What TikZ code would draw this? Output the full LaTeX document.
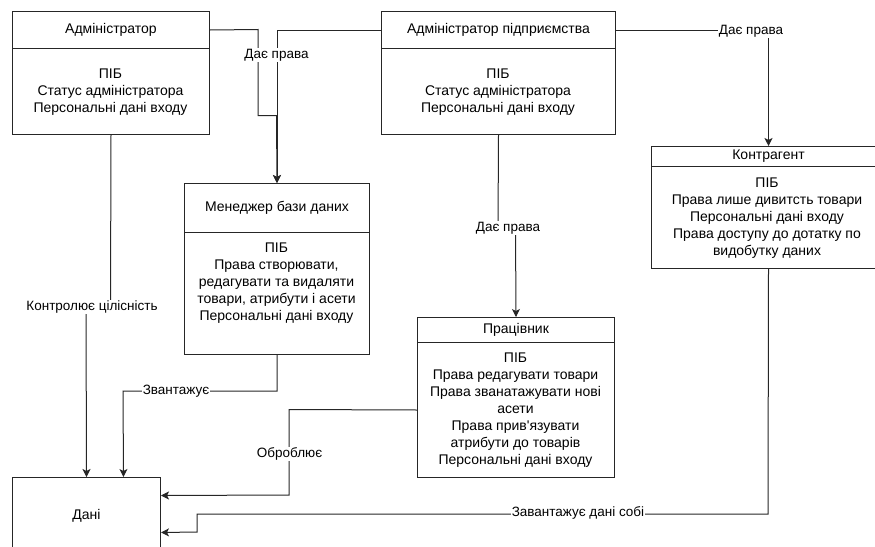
\documentclass[tikz,border=0pt]{standalone}
\usepackage{fontspec}
\setmainfont{Liberation Sans}
\usetikzlibrary{arrows.meta}
\begin{document}
\begin{tikzpicture}[x=1pt,y=-1pt,
  every node/.style={font=\fontsize{14}{17}\selectfont},
  cell/.style={draw=black!85, line width=1pt, rectangle, inner sep=0pt, anchor=north west},
  body/.style={align=center, inner sep=0pt},
  link/.style={draw=black!85, line width=1pt},
  arr/.style={link, -{Stealth[length=8pt,width=8pt,inset=2pt]}},
  tag/.style={fill=white, inner sep=1pt, font=\fontsize{13.5}{16}\selectfont}
]
\useasboundingbox (0,0) rectangle (875,546);
\clip (0,0) rectangle (875,546);

% entity boxes: header cell + body cell
\node[cell, minimum width=197pt, minimum height=37pt] (admH) at (12,11) {Адміністратор};
\node[cell, minimum width=197pt, minimum height=86pt] (admB) at (12,48) {};
\node[body] (admT) at (110.5,92) {ПІБ\\Статус адміністратора\\Персональні дані входу};

\node[cell, minimum width=234pt, minimum height=37pt] (entH) at (381,11) {Адміністратор підприємства};
\node[cell, minimum width=234pt, minimum height=86pt] (entB) at (381,48) {};
\node[body] (entT) at (498,92) {ПІБ\\Статус адміністратора\\Персональні дані входу};

\node[cell, minimum width=185pt, minimum height=49pt] (mgrH) at (184,183) {Менеджер бази даних};
\node[cell, minimum width=185pt, minimum height=122pt] (mgrB) at (184,232) {};
\node[body] (mgrT) at (276.5,283) {ПІБ\\Права створювати,\\редагувати та видаляти\\товари, атрибути і асети\\Персональні дані входу};

\node[cell, minimum width=234pt, minimum height=20pt] (conH) at (651,146) {Контрагент};
\node[cell, minimum width=234pt, minimum height=102pt] (conB) at (651,166) {};
\node[body] (conT) at (767,218.5) {ПІБ\\Права лише дивитсть товари\\Персональні дані входу\\Права доступу до дотатку по\\видобутку даних};

\node[cell, minimum width=197pt, minimum height=25pt] (prcH) at (417,317) {Працівник};
\node[cell, minimum width=197pt, minimum height=135pt] (prcB) at (417,342) {};
\node[body] (prcT) at (515.5,410) {ПІБ\\Права редагувати товари\\Права званатажувати нові\\асети\\Права прив\textquotesingle язувати\\атрибути до товарів\\Персональні дані входу};

\node[cell, minimum width=148pt, minimum height=76pt] (dat) at (12,477) {Дані};

% connectors
\draw[arr] (admH.east) -- (258,29.5) -- (258,115.7) -- (276.5,115.7) -- (mgrH.north);
\draw[arr] (entH.west) -| (mgrH.north)
  node[tag] at (276.5,55) {Дає права};

\draw[arr] (admB.south) -- (110.5,306) -- (86,306) -- (dat.north)
  node[tag] at (92,307) {Контролює цілісність};

\draw[arr] (mgrB.south) |- (123,391) -- ([xshift=37pt]dat.north)
  node[tag] at (176,391) {Звантажує};

\draw[arr] (prcB.west) -- (289,409.5) -- (289,495) -- ([yshift=20pt]dat.east)
  node[tag] at (289.5,454) {Оброблює};

\draw[arr] (conB.south) -- (768,514) -- (197,514) -- (197,532) -- ([yshift=-17pt]dat.east)
  node[tag] at (578,513) {Завантажує дані собі};

\draw[arr] (entH.east) -| (conH.north)
  node[tag] at (751,31) {Дає права};

\draw[arr] (entB.south) -- (498,228) -- (515.5,228) -- (prcH.north)
  node[tag] at (508,228) {Дає права};
\end{tikzpicture}
\end{document}
